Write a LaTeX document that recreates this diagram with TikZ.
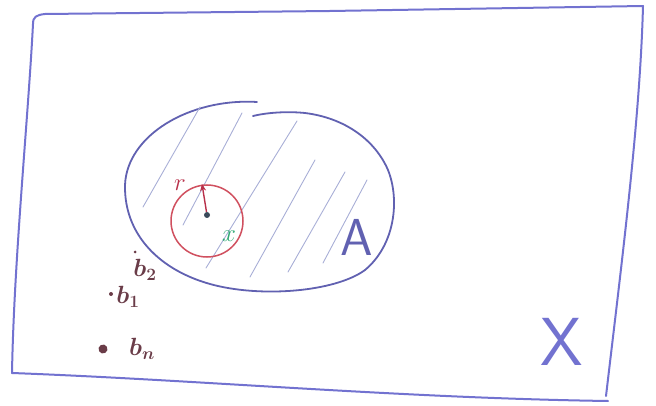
\documentclass[tikz,border=0pt]{standalone}
\usepackage{bm}
\usetikzlibrary{arrows.meta}
\definecolor{penblue}{HTML}{7272D0}
\definecolor{hatchc}{HTML}{A8AED6}
\definecolor{penred}{HTML}{D0505F}
\definecolor{darkred}{HTML}{B8304A}
\definecolor{pengreen}{HTML}{2FA874}
\definecolor{penbrown}{HTML}{6A3C48}
\definecolor{dotc}{HTML}{3A4A5A}
\tikzset{
  frameline/.style={draw=penblue, line width=2pt, line cap=round, line join=round},
  setline/.style={draw=penblue!85!black, line width=1.8pt, line cap=round},
  hatchline/.style={draw=hatchc, line width=0.9pt, line cap=round},
  lbl/.style={inner sep=0pt, outer sep=0pt},
  pointdot/.style={circle, fill=penbrown, inner sep=0pt, minimum size=4pt},
}
\begin{document}
\begin{tikzpicture}[x=1pt,y=-1pt]
\useasboundingbox (0,0) rectangle (656,406);
% frame X
\coordinate (tl) at (33,24);
\coordinate (tr) at (643,6);
\coordinate (br) at (606,396);
\coordinate (bl) at (12,373);
\draw[frameline] (tl) .. controls (33,17) and (36,15) .. (45,14) -- (330,11) -- (tr);
\draw[frameline] (tr) .. controls (640,120) and (622,260) .. (br);
\draw[frameline] (bl) .. controls (200,380) and (400,398) .. (608,401);
\draw[frameline] (tl) .. controls (28,120) and (14,260) .. (bl);
% set A
\draw[setline] (257,102) .. controls (190,98) and (127,135) .. (125,185)
  .. controls (124,235) and (160,270) .. (210,284)
  .. controls (260,298) and (335,292) .. (365,270)
  .. controls (395,245) and (400,200) .. (388,170)
  .. controls (375,140) and (345,118) .. (305,113)
  .. controls (285,111) and (265,113) .. (253,116);
% hatching
\draw[hatchline] (143,207) -- (200,107);
\draw[hatchline] (183,225) -- (242,113);
\draw[hatchline] (206,268) -- (297,121);
\draw[hatchline] (250,277) -- (315,160);
\draw[hatchline] (288,272) -- (345,172);
\draw[hatchline] (323,263) -- (367,180);
% ball
\node[circle, draw=penred, line width=1.5pt, minimum size=72pt, inner sep=0pt] (ball) at (207,221) {};
\node[circle, fill=dotc, inner sep=0pt, minimum size=6pt] (ctr) at (207,215) {};
\coordinate (rim) at (202,184);
\draw[darkred, line width=1.4pt, -{Stealth[length=7pt,width=6pt]}] (ctr) -- (rim);
\node[lbl, text=darkred, font=\fontsize{34}{36}\selectfont] (r) at (180,185) {$r$};
\node[lbl, text=pengreen, font=\fontsize{30}{32}\selectfont] (x) at (229,236) {$x$};
\node[lbl, text=penblue!85!black, font=\sffamily\fontsize{52}{56}\selectfont] (A) at (357,237) {A};
\node[lbl, text=penblue, font=\sffamily\fontsize{68}{72}\selectfont] (X) at (562,342) {X};
% points
\node[pointdot, minimum size=3pt] (p2) at (135,252) {};
\node[lbl, text=penbrown, font=\fontsize{24}{26}\selectfont] (b2) at (145,270) {$\bm{b_2}$};
\node[pointdot, minimum size=4pt] (p1) at (111,294) {};
\node[lbl, text=penbrown, font=\fontsize{24}{26}\selectfont] (b1) at (128,297) {$\bm{b_1}$};
\node[pointdot, minimum width=6pt, minimum height=9pt, rotate=30] (pn) at (103,349) {};
\node[lbl, text=penbrown, font=\fontsize{24}{26}\selectfont] (bn) at (142,349) {$\bm{b_n}$};
\end{tikzpicture}
\end{document}
